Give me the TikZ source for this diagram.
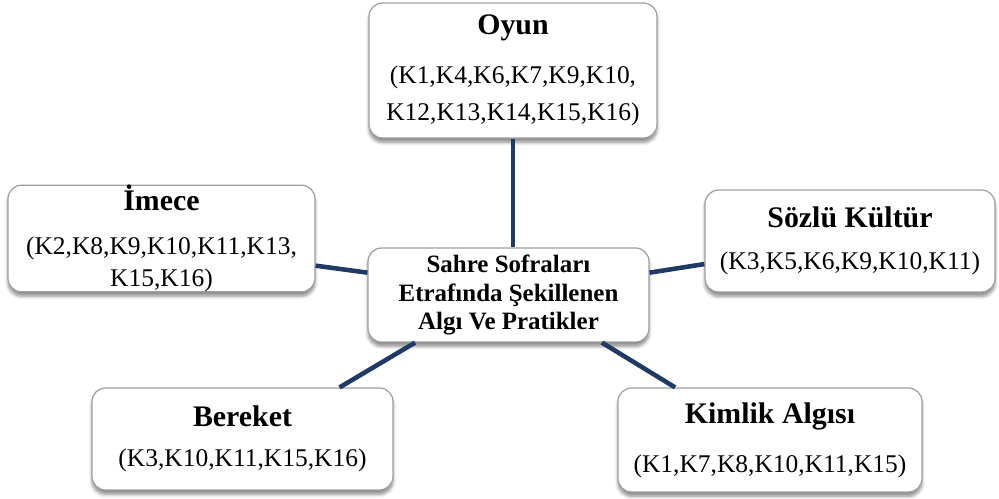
\documentclass[tikz,border=0pt]{standalone}
\usepackage{fontspec}
\setmainfont{Liberation Serif}
\usepackage{tikz}
\usetikzlibrary{shadows.blur}

\definecolor{linknavy}{RGB}{31,58,100}
\newcommand{\boxtitle}[1]{{\fontsize{17pt}{20pt}\selectfont\bfseries #1}}

\begin{document}
\begin{tikzpicture}[
        x=0.02cm, y=-0.02cm,
        theme_box/.style={draw=gray!75, line width=0.7pt, fill=white, rounded corners=0.27cm,
            align=center, inner sep=0pt, font=\fontsize{14.5pt}{18pt}\selectfont,
            blur shadow={shadow xshift=0pt, shadow yshift=-2.5pt, shadow blur steps=6, shadow opacity=45}},
        hub_box/.style={theme_box, font=\fontsize{14.2pt}{16pt}\selectfont\bfseries},
        link/.style={draw=linknavy, line width=2.6pt}
    ]
        \useasboundingbox (0,0) rectangle (999,499);

        % center node
        \node[hub_box, minimum width=5.62cm, minimum height=1.88cm] (hub) at (508.5,295)
            {Sahre Sofraları\\Etrafında Şekillenen\\Algı Ve Pratikler};

        % surrounding themes
        \node[theme_box, minimum width=5.76cm, minimum height=2.70cm] (oyun) at (513,70.5)
            {\boxtitle{Oyun}\\[10pt](K1,K4,K6,K7,K9,K10,\\[3pt]K12,K13,K14,K15,K16)};
        \node[theme_box, minimum width=6.14cm, minimum height=2.06cm] (imece) at (161.5,238.5)
            {\boxtitle{İmece}\\[7pt](K2,K8,K9,K10,K11,K13,\\K15,K16)};
        \node[theme_box, minimum width=5.80cm, minimum height=2.04cm] (sozlu) at (850,241)
            {\boxtitle{Sözlü Kültür}\\[6pt](K3,K5,K6,K9,K10,K11)};
        \node[theme_box, minimum width=6.02cm, minimum height=2.04cm] (bereket) at (242.5,439)
            {\boxtitle{Bereket}\\[5pt](K3,K10,K11,K15,K16)};
        \node[theme_box, minimum width=6.08cm, minimum height=2.08cm] (kimlik) at (770,440)
            {\boxtitle{Kimlik Algısı}\\[10pt](K1,K7,K8,K10,K11,K15)};

        % links
        \draw[link] (oyun.south) -- (oyun.south |- hub.north);
        \draw[link] (imece.-10) -- (hub.171);
        \draw[link] (hub.9) -- (sozlu.189);
        \draw[link] (hub.207) -- (bereket.28);
        \draw[link] (hub.-27) -- (kimlik.151);
    \end{tikzpicture}
\end{document}
